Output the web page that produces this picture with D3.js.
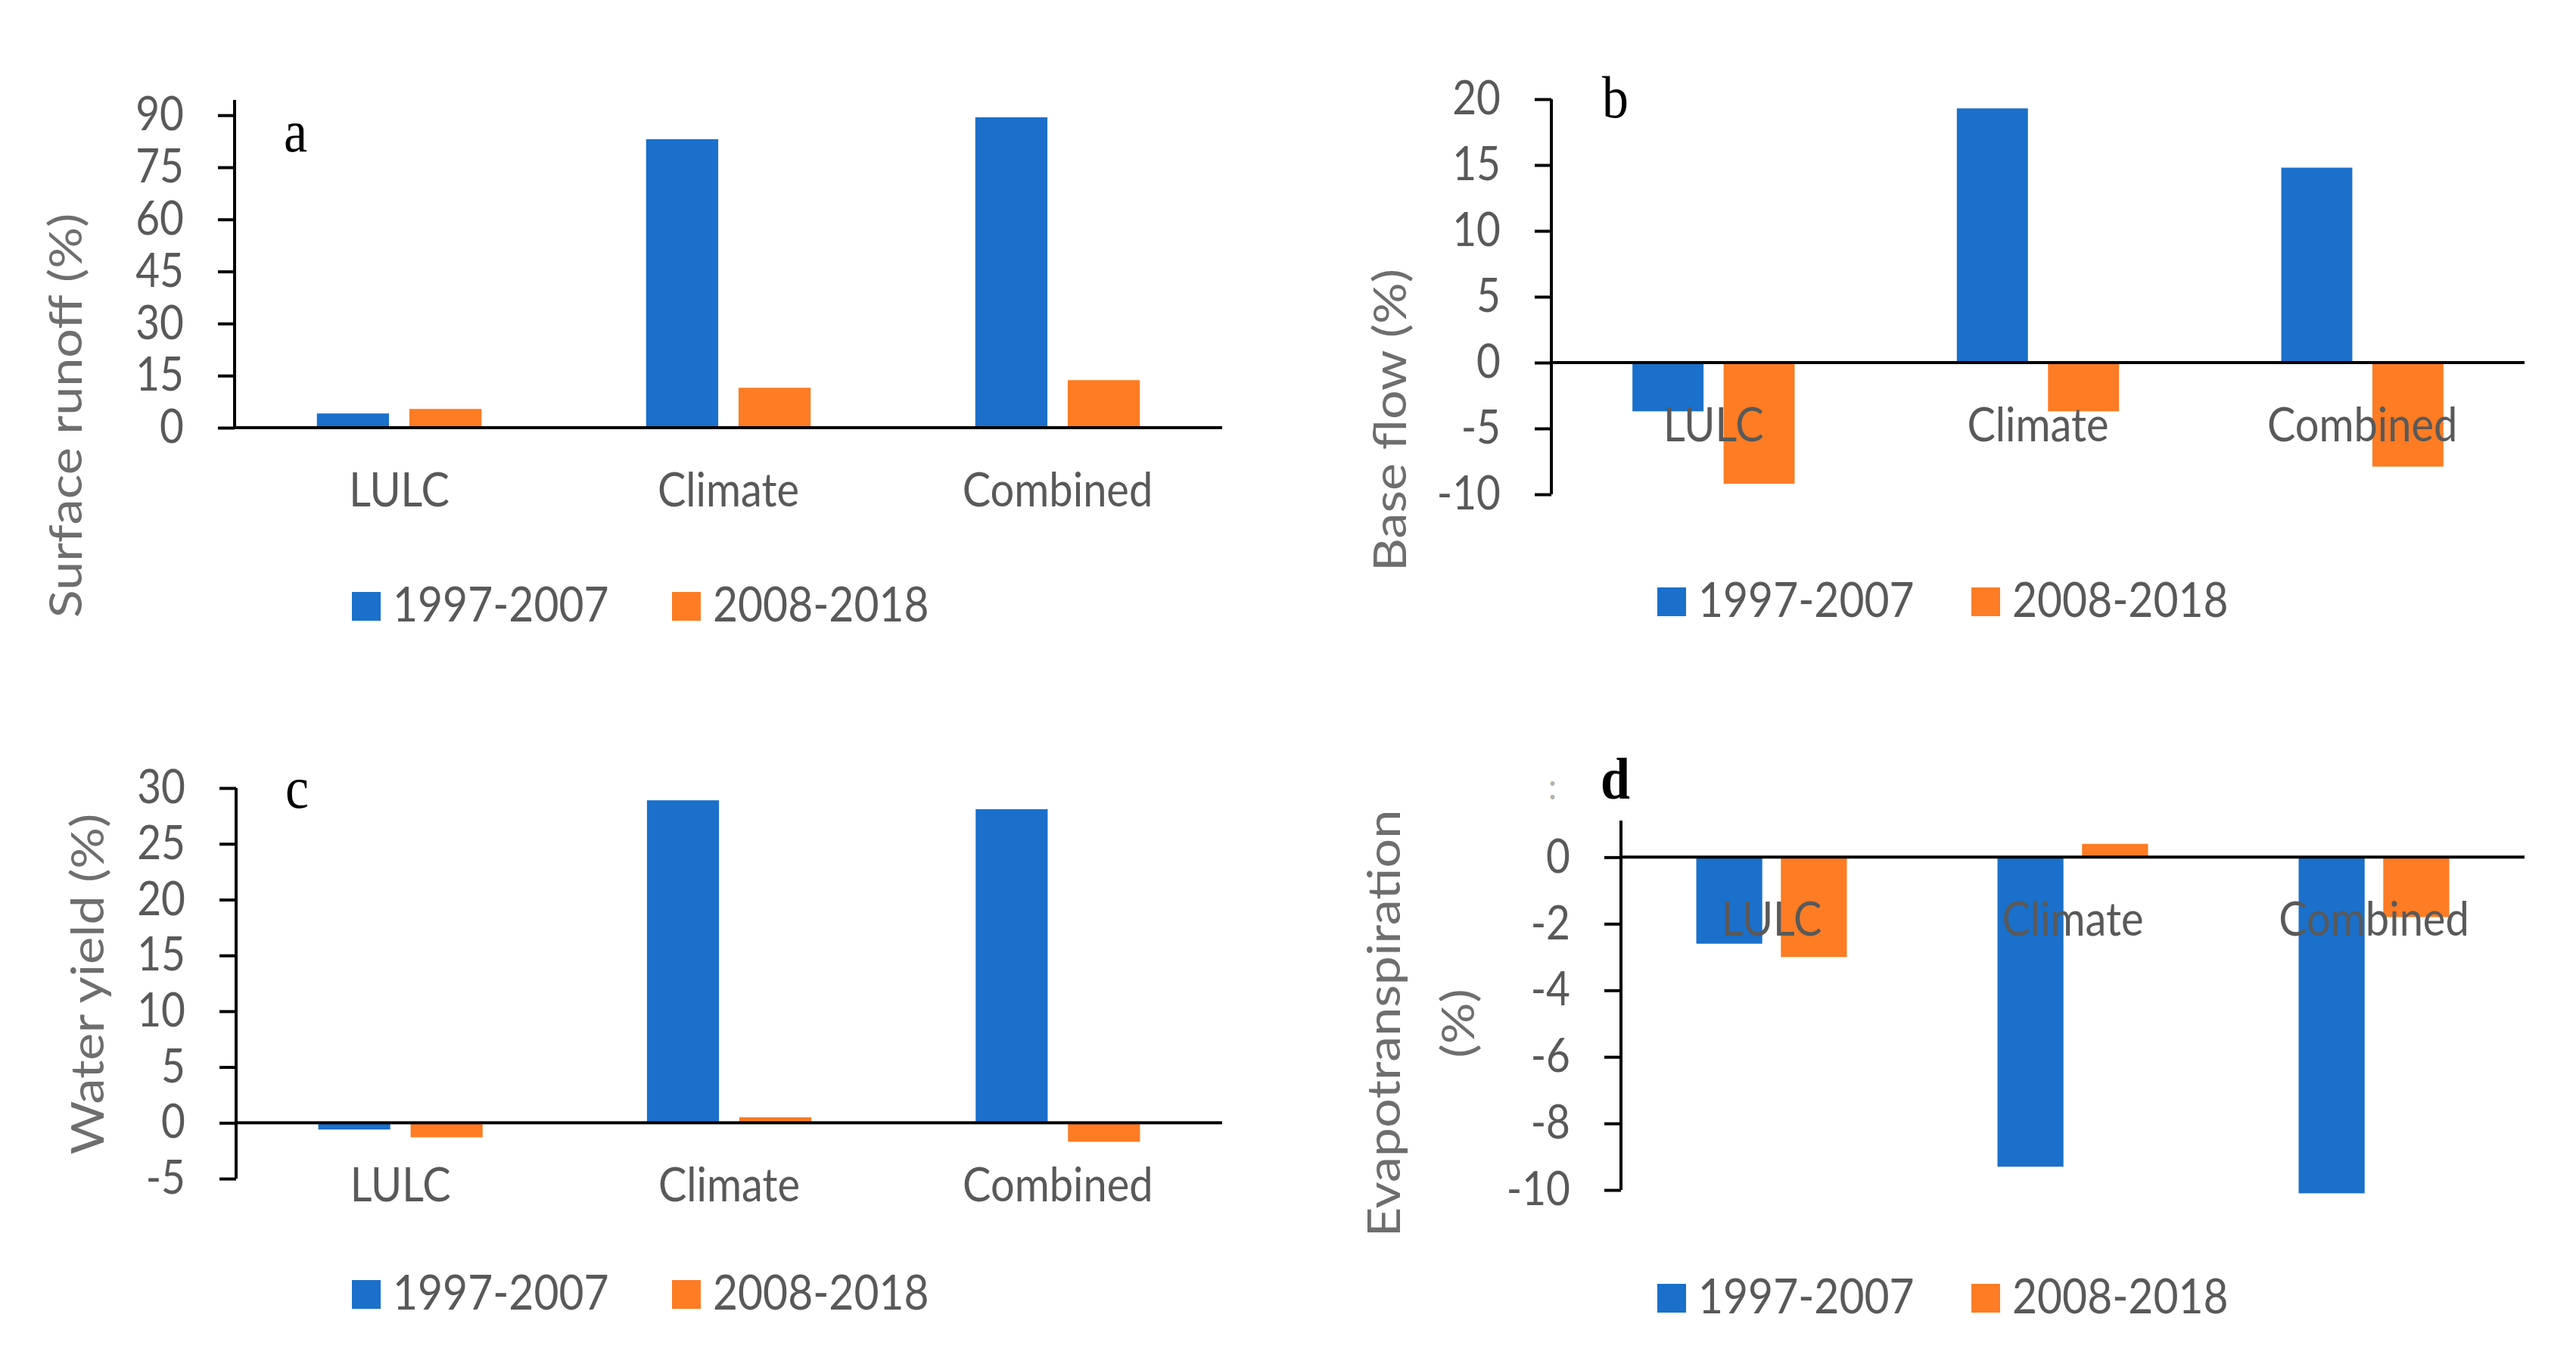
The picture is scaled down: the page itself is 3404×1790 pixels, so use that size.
<!DOCTYPE html>
<html>
<head>
<meta charset="utf-8">
<script src="https://cdn.jsdelivr.net/npm/d3@7/dist/d3.min.js"></script>
<style>
  body { margin: 0; background: #fff; }
  svg { display: block; }
</style>
</head>
<body>
<svg id="chart"></svg>
<script>

// categories and series
const categories = ["LULC", "Climate", "Combined"];
const periods = ["1997-2007", "2008-2018"];

// values (%)
const surfaceRunoff_1997 = [4.1, 83.1, 89.4];
const surfaceRunoff_2008 = [5.4, 11.5, 13.7];
const baseFlow_1997 = [-3.7, 19.3, 14.8];
const baseFlow_2008 = [-9.2, -3.7, -7.9];
const waterYield_1997 = [-0.6, 28.9, 28.1];
const waterYield_2008 = [-1.3, 0.5, -1.7];
const evapo_1997 = [-2.6, -9.3, -10.1];
const evapo_2008 = [-3.0, 0.4, -1.8];

// tick labels
const surfaceRunoffTicks = [0, 15, 30, 45, 60, 75, 90];
const baseFlowTicks = [-10, -5, 0, 5, 10, 15, 20];
const waterYieldTicks = [-5, 0, 5, 10, 15, 20, 25, 30];
const evapoTicks = [-10, -8, -6, -4, -2, 0];

const colors = ["#1a70ca", "#fd7c24"];
const textGray = "#595959";
const SY = 1.12; // the source figure is slightly stretched vertically

var svg = d3.select("#chart")
  .attr("width", 3404)
  .attr("height", 1790)
  .style("font-family", "Lato, 'Open Sans', sans-serif");

// layout of the four panels (pixels)
var panels = [
  { letter: "a", letterPos: [375, 200], title: ["Surface runoff (%)"], titleX: [108], titleY: 549,
    series: [surfaceRunoff_1997, surfaceRunoff_2008], ticks: surfaceRunoffTicks,
    domain: [0, 94.4], yRange: [565, 132], left: 310, right: 1615, legend: [465, 888, 801] },
  { letter: "b", letterPos: [2117, 155], title: ["Base flow (%)"], titleX: [1858], titleY: 555,
    series: [baseFlow_1997, baseFlow_2008], ticks: baseFlowTicks,
    domain: [-10, 20], yRange: [653, 131], left: 2050, right: 3336, legend: [2190, 2605, 795] },
  { letter: "c", letterPos: [377, 1067], title: ["Water yield (%)"], titleX: [137], titleY: 1300,
    series: [waterYield_1997, waterYield_2008], ticks: waterYieldTicks,
    domain: [-5, 30], yRange: [1557, 1041], left: 312, right: 1615, legend: [465, 888, 1710] },
  { letter: "d", letterPos: [2115, 1055], title: ["Evapotranspiration", "(%)"], titleX: [1850, 1948], titleY: 1352,
    series: [evapo_1997, evapo_2008], ticks: evapoTicks,
    domain: [-10, 1.1], yRange: [1572, 1084], left: 2142, right: 3336, legend: [2190, 2605, 1715] }
];

function stretched(x, y, rotate) {
  return `translate(${x},${y}) scale(1,${SY})` + (rotate ? " rotate(-90)" : "");
}

function drawPanel(p) {
  var g = svg.append("g").attr("class", "panel-" + p.letter);

  var x0 = d3.scaleBand()
    .domain(categories)
    .range([p.left, p.right])
    .paddingInner(0.5)
    .paddingOuter(0.25);

  var x1 = d3.scaleBand()
    .domain(periods)
    .range([0, x0.bandwidth()])
    .paddingInner(0.22);

  var y = d3.scaleLinear().domain(p.domain).range(p.yRange);

  var rows = categories.map((c, i) => ({
    cat: c,
    vals: p.series.map((s, j) => ({ period: periods[j], v: s[i], k: j }))
  }));

  // bars
  g.selectAll(".grp")
    .data(rows)
    .enter()
    .append("g")
    .attr("class", "grp")
    .attr("transform", d => `translate(${x0(d.cat)},0)`)
    .selectAll("rect")
    .data(d => d.vals)
    .enter()
    .append("rect")
    .attr("x", d => x1(d.period))
    .attr("width", x1.bandwidth())
    .attr("y", d => y(Math.max(0, d.v)))
    .attr("height", d => Math.abs(y(d.v) - y(0)))
    .attr("fill", d => colors[d.k]);

  // y axis ticks + labels (plain hyphen for negatives, like Excel)
  var yAxis = d3.axisLeft(y)
    .tickValues(p.ticks)
    .tickSize(22)
    .tickPadding(45)
    .tickFormat(d => String(d));

  var ay = g.append("g")
    .attr("transform", `translate(${p.left},0)`)
    .call(yAxis)
    .attr("font-family", null)
    .attr("font-size", null);
  ay.select(".domain").remove();
  ay.selectAll(".tick line").attr("stroke", "#000").attr("stroke-width", 4);
  ay.selectAll(".tick text")
    .attr("fill", textGray)
    .style("font-size", "55px")
    .attr("transform", `scale(1,${SY})`);

  // axis lines
  g.append("line")
    .attr("x1", p.left).attr("x2", p.left)
    .attr("y1", y(p.domain[1])).attr("y2", y(p.domain[0]))
    .attr("stroke", "#000").attr("stroke-width", 4);
  g.append("line")
    .attr("x1", p.left).attr("x2", p.right)
    .attr("y1", y(0)).attr("y2", y(0))
    .attr("stroke", "#000").attr("stroke-width", 4);

  // category labels (Excel keeps them next to the zero line)
  g.selectAll(".cat")
    .data(categories)
    .enter()
    .append("text")
    .attr("class", "cat")
    .attr("transform", d => stretched(x0(d) + x0.bandwidth() / 2, y(0) + 104))
    .attr("text-anchor", "middle")
    .attr("fill", textGray)
    .style("font-size", "56px")
    .text(d => d);

  // y title
  p.title.forEach((t, i) => {
    g.append("text")
      .attr("transform", stretched(p.titleX[i], p.titleY, true))
      .attr("text-anchor", "middle")
      .attr("fill", "#6e6e6e")
      .style("font-size", "61px")
      .text(t);
  });

  // panel letter
  g.append("text")
    .attr("transform", stretched(p.letterPos[0], p.letterPos[1]))
    .style("font-family", "'Liberation Serif', 'Times New Roman', serif")
    .style("font-size", "70px")
    .style("font-weight", p.letter === "d" ? "bold" : "normal")
    .attr("fill", "#000")
    .text(p.letter);

  // legend
  var lg = g.append("g");
  periods.forEach((name, i) => {
    var lx = p.legend[i];
    lg.append("rect")
      .attr("x", lx).attr("y", p.legend[2] - 19)
      .attr("width", 38).attr("height", 38)
      .attr("fill", colors[i]);
    lg.append("text")
      .attr("transform", stretched(lx + 54, p.legend[2] + 20))
      .attr("fill", textGray)
      .style("font-size", "57px")
      .text(name);
  });
}

panels.forEach(drawPanel);

// stray mark left of the "d" label in the source figure
svg.append("text")
  .attr("transform", stretched(2046, 1056))
  .attr("fill", "#b0b0b0")
  .style("font-size", "44px")
  .text(":");

</script>
</body>
</html>
